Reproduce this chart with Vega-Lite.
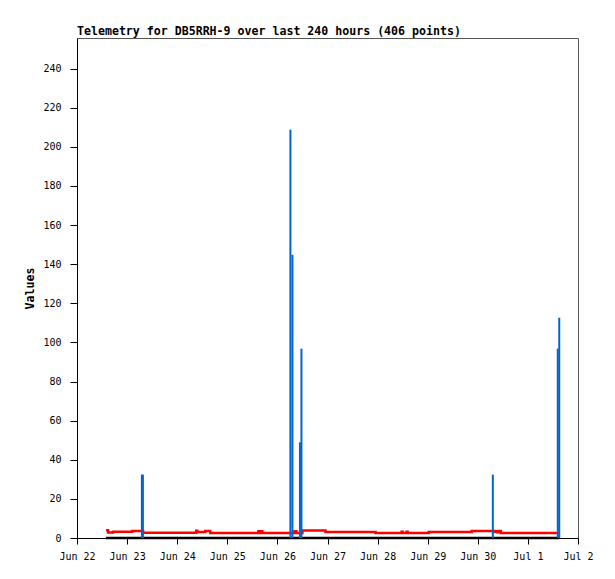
{
  "$schema": "https://vega.github.io/schema/vega-lite/v6.json",
  "width": 501,
  "height": 500,
  "autosize": {"type": "none"},
  "padding": {"left": 77, "top": 38, "right": 37, "bottom": 41},
  "background": "white",
  "title": {
    "text": "Telemetry for DB5RRH-9 over last 240 hours (406 points)",
    "anchor": "start",
    "frame": "group",
    "font": "DejaVu Sans Mono",
    "fontSize": 11.6,
    "fontWeight": "bold",
    "color": "black",
    "offset": 0
  },
  "config": {
    "view": {"stroke": "#555555", "strokeWidth": 1},
    "axis": {
      "grid": false,
      "domainColor": "black",
      "tickColor": "black",
      "labelColor": "black",
      "labelFont": "DejaVu Sans Mono",
      "labelFontSize": 10,
      "titleFont": "DejaVu Sans Mono",
      "titleFontSize": 11.6,
      "titleFontWeight": "bold",
      "titleColor": "black"
    }
  },
  "encoding": {
    "x": {
      "field": "t",
      "type": "temporal",
      "scale": {
        "type": "utc",
        "domain": [
          {"year": 2024, "month": "jun", "date": 22, "utc": true},
          {"year": 2024, "month": "jul", "date": 2, "utc": true}
        ]
      },
      "axis": {
        "title": null,
        "labelExpr": "utcFormat(datum.value, '%b %-d')",
        "tickSize": 6,
        "labelPadding": 7,
        "labelFlush": false,
        "labelOverlap": false,
        "values": [
          {"year": 2024, "month": "jun", "date": 22, "utc": true},
          {"year": 2024, "month": "jun", "date": 23, "utc": true},
          {"year": 2024, "month": "jun", "date": 24, "utc": true},
          {"year": 2024, "month": "jun", "date": 25, "utc": true},
          {"year": 2024, "month": "jun", "date": 26, "utc": true},
          {"year": 2024, "month": "jun", "date": 27, "utc": true},
          {"year": 2024, "month": "jun", "date": 28, "utc": true},
          {"year": 2024, "month": "jun", "date": 29, "utc": true},
          {"year": 2024, "month": "jun", "date": 30, "utc": true},
          {"year": 2024, "month": "jul", "date": 1, "utc": true},
          {"year": 2024, "month": "jul", "date": 2, "utc": true}
        ]
      }
    },
    "y": {
      "field": "v",
      "type": "quantitative",
      "scale": {"domain": [0, 255.6], "nice": false, "zero": true},
      "axis": {
        "title": "Values",
        "titlePadding": 7,
        "tickSize": 7,
        "labelPadding": 9,
        "values": [0, 20, 40, 60, 80, 100, 120, 140, 160, 180, 200, 220, 240]
      }
    }
  },
  "layer": [
    {
      "data": {"values": [
        {"t": "2024-06-22T13:55:00Z", "v": 0},
        {"t": "2024-07-01T14:53:00Z", "v": 0}
      ]},
      "mark": {"type": "line", "color": "black", "strokeWidth": 2.5}
    },
    {
      "data": {"values": [
        {"t": "2024-06-22T13:55:00Z", "v": 3.9},
        {"t": "2024-06-22T14:53:00Z", "v": 2.8},
        {"t": "2024-06-22T17:17:00Z", "v": 3.2},
        {"t": "2024-06-23T02:24:00Z", "v": 3.6},
        {"t": "2024-06-23T07:41:00Z", "v": 2.7},
        {"t": "2024-06-24T09:07:00Z", "v": 3.7},
        {"t": "2024-06-24T09:36:00Z", "v": 3.1},
        {"t": "2024-06-24T13:26:00Z", "v": 3.6},
        {"t": "2024-06-24T15:50:00Z", "v": 2.6},
        {"t": "2024-06-25T14:53:00Z", "v": 3.5},
        {"t": "2024-06-25T15:22:00Z", "v": 2.6},
        {"t": "2024-06-25T16:19:00Z", "v": 3.5},
        {"t": "2024-06-25T16:48:00Z", "v": 2.6},
        {"t": "2024-06-26T08:10:00Z", "v": 3.5},
        {"t": "2024-06-26T09:07:00Z", "v": 2.6},
        {"t": "2024-06-26T12:00:00Z", "v": 3.8},
        {"t": "2024-06-26T23:02:00Z", "v": 3.1},
        {"t": "2024-06-27T23:02:00Z", "v": 2.6},
        {"t": "2024-06-28T11:31:00Z", "v": 3.2},
        {"t": "2024-06-28T12:00:00Z", "v": 2.6},
        {"t": "2024-06-28T13:55:00Z", "v": 3.2},
        {"t": "2024-06-28T14:24:00Z", "v": 2.6},
        {"t": "2024-06-29T00:29:00Z", "v": 3.1},
        {"t": "2024-06-29T21:07:00Z", "v": 3.6},
        {"t": "2024-06-30T07:12:00Z", "v": 3.6},
        {"t": "2024-06-30T08:00:00Z", "v": 3.2},
        {"t": "2024-06-30T08:40:00Z", "v": 3.5},
        {"t": "2024-06-30T09:20:00Z", "v": 3.0},
        {"t": "2024-06-30T10:00:00Z", "v": 3.6},
        {"t": "2024-06-30T11:02:00Z", "v": 2.6},
        {"t": "2024-07-01T13:55:00Z", "v": 2.6}
      ]},
      "mark": {"type": "line", "color": "#ff0000", "strokeWidth": 2.5, "interpolate": "step-after"}
    },
    {
      "data": {"values": [
        {"t": "2024-06-23T07:05:00Z", "v": 32.4},
        {"t": "2024-06-23T07:34:00Z", "v": 32.4},
        {"t": "2024-06-26T06:14:00Z", "v": 208.7},
        {"t": "2024-06-26T07:12:00Z", "v": 144.8},
        {"t": "2024-06-26T10:48:00Z", "v": 48.9},
        {"t": "2024-06-26T11:31:00Z", "v": 96.8},
        {"t": "2024-06-30T07:12:00Z", "v": 32.4},
        {"t": "2024-07-01T14:18:00Z", "v": 96.8},
        {"t": "2024-07-01T15:01:00Z", "v": 112.6}
      ]},
      "mark": {"type": "rule", "color": "#0066cc", "strokeWidth": 2},
      "encoding": {"y2": {"datum": 0}}
    }
  ]
}
